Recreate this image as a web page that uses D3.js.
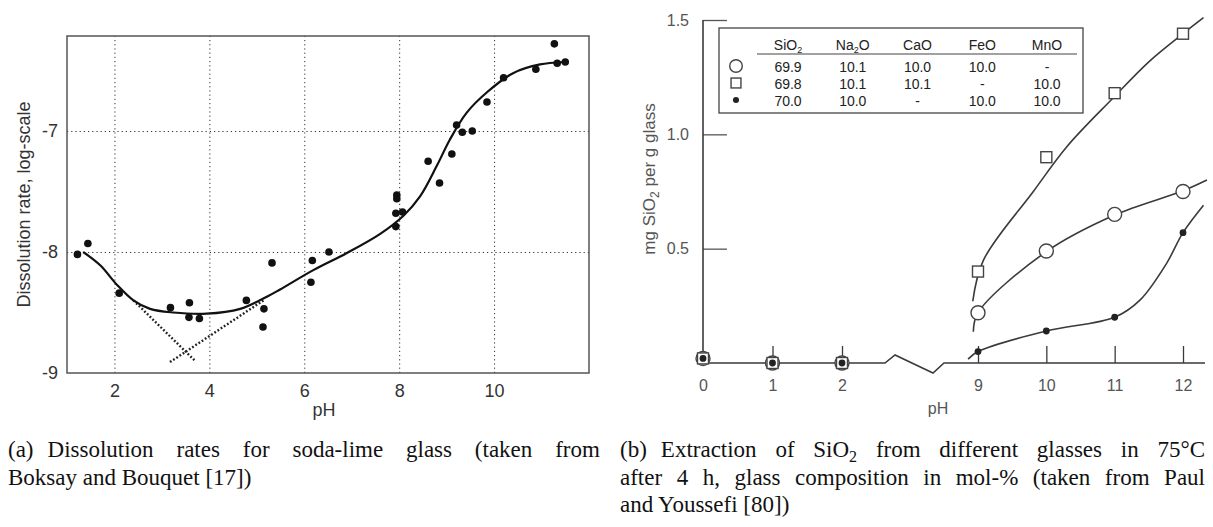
<!DOCTYPE html>
<html>
<head>
<meta charset="utf-8">
<script src="https://cdn.jsdelivr.net/npm/d3@7"></script>
<style>
  body { margin: 0; background: #fff; }
  svg text { font-family: "Liberation Sans", Arial, sans-serif; }
  .cap { font-family: "Liberation Serif", serif !important; font-size: 23px; fill: #111; }
</style>
</head>
<body>
<div id="svg"></div>
<script>
var width = 1213,
    height = 527;

// (a) dissolution rate vs pH
var phA   = [1.22, 1.44, 2.10, 3.18, 3.58, 3.57, 3.79, 4.78, 5.32, 5.15, 5.13, 6.17, 6.14, 6.52, 7.95, 7.95, 7.93, 8.07, 7.93, 8.61, 8.85, 9.11, 9.21, 9.33, 9.54, 9.85, 10.20, 10.88, 11.27, 11.33, 11.50];
var rateA = [-8.02, -7.93, -8.34, -8.46, -8.42, -8.54, -8.55, -8.40, -8.09, -8.47, -8.62, -8.07, -8.25, -8.00, -7.53, -7.56, -7.68, -7.67, -7.79, -7.25, -7.43, -7.19, -6.95, -7.01, -7.00, -6.76, -6.56, -6.49, -6.28, -6.44, -6.43];
// fitted curve
var fitPhA   = [1.34, 1.70, 2.05, 2.40, 2.75, 3.24, 3.94, 4.65, 5.21, 5.49, 6.19, 6.89, 7.60, 8.09, 8.44, 8.79, 9.07, 9.42, 9.85, 10.41, 10.97, 11.46];
var fitRateA = [-8.00, -8.11, -8.27, -8.40, -8.47, -8.50, -8.51, -8.47, -8.37, -8.31, -8.15, -8.01, -7.85, -7.70, -7.54, -7.29, -7.07, -6.85, -6.68, -6.52, -6.45, -6.43];
// dotted asymptotes
var acidPh = [2.40, 3.70], acidRate = [-8.40, -8.90];
var basePh = [3.17, 5.14], baseRate = [-8.91, -8.40];
var xTicksA = [2, 4, 6, 8, 10];
var yTicksA = [-9, -8, -7];

// (b) SiO2 extraction
var phB     = [0, 1, 2, 9, 10, 11, 12];
var circB   = [0.02, 0, 0, 0.22, 0.49, 0.65, 0.75];
var squareB = [0.02, 0, 0, 0.40, 0.90, 1.18, 1.44];
var dotB    = [0.02, 0, 0, 0.05, 0.14, 0.20, 0.57];
var circFitPh   = [8.76, 9, 10, 11, 12, 12.35];
var circFitVal  = [0.137, 0.22, 0.487, 0.647, 0.753, 0.80];
var squareFitPh  = [8.73, 9.08, 9.81, 10.30, 10.98, 11.5, 12, 12.3];
var squareFitVal = [0.27, 0.45, 0.75, 0.946, 1.16, 1.317, 1.44, 1.51];
var dotFitPh  = [8.49, 9, 10, 11, 11.37, 11.76, 12, 12.3];
var dotFitVal = [0.017, 0.05, 0.14, 0.20, 0.275, 0.436, 0.57, 0.69];
var xTicksB = [0, 1, 2, 9, 10, 11, 12];
var yTicksB = [0.5, 1.0, 1.5];

// legend table
var legendCols = ["SiO2", "Na2O", "CaO", "FeO", "MnO"];
var legendRows = [
  ["circle", ["69.9", "10.1", "10.0", "10.0", "-"]],
  ["square", ["69.8", "10.1", "10.1", "-", "10.0"]],
  ["dot",    ["70.0", "10.0", "-", "10.0", "10.0"]]
];

var svg = d3.select("#svg").append("svg")
    .attr("width", width)
    .attr("height", height);

// ---------------- panel (a) ----------------
var xA = d3.scaleLinear().domain([1, 12]).range([67, 589]);
var yA = d3.scaleLinear().domain([-9, -6.215]).range([373, 36]);
var gA = svg.append("g");

// grid
gA.append("g")
    .attr("transform", "translate(0," + yA(-9) + ")")
    .call(d3.axisBottom(xA).tickValues(xTicksA).tickSize(-(yA(-9) - yA.range()[1])).tickFormat(""))
    .call(function(g) { g.select(".domain").remove(); })
    .selectAll("line").attr("stroke", "#333").attr("stroke-dasharray", "1.2,3");
gA.append("g")
    .attr("transform", "translate(" + xA(1) + ",0)")
    .call(d3.axisLeft(yA).tickValues([-8, -7]).tickSize(-(xA(12) - xA(1))).tickFormat(""))
    .call(function(g) { g.select(".domain").remove(); })
    .selectAll("line").attr("stroke", "#333").attr("stroke-dasharray", "1.2,3");

// frame
gA.append("rect")
    .attr("x", xA(1)).attr("y", yA.range()[1])
    .attr("width", xA(12) - xA(1)).attr("height", yA(-9) - yA.range()[1])
    .attr("fill", "none").attr("stroke", "#555").attr("stroke-width", 1.5);

// tick labels
var axA = gA.append("g")
    .attr("transform", "translate(0," + yA(-9) + ")")
    .call(d3.axisBottom(xA).tickValues(xTicksA).tickSize(0).tickPadding(11));
var ayA = gA.append("g")
    .attr("transform", "translate(" + xA(1) + ",0)")
    .call(d3.axisLeft(yA).tickValues(yTicksA).tickSize(0).tickPadding(9).tickFormat(function(d) { return String(d); }));
[axA, ayA].forEach(function(a) {
  a.select(".domain").remove();
  a.selectAll("text").attr("font-size", 18).attr("fill", "#333")
    .style("font-family", "Liberation Sans, Arial, sans-serif");
});

var lineA = d3.line()
    .x(function(d) { return xA(d[0]); })
    .y(function(d) { return yA(d[1]); });

gA.append("path")
    .datum(d3.zip(acidPh, acidRate))
    .attr("d", lineA).attr("fill", "none")
    .attr("stroke", "#222").attr("stroke-width", 2.4).attr("stroke-dasharray", "1.8,2");
gA.append("path")
    .datum(d3.zip(basePh, baseRate))
    .attr("d", lineA).attr("fill", "none")
    .attr("stroke", "#222").attr("stroke-width", 2.4).attr("stroke-dasharray", "1.8,2");

gA.append("path")
    .datum(d3.zip(fitPhA, fitRateA))
    .attr("d", lineA.curve(d3.curveCatmullRom))
    .attr("fill", "none").attr("stroke", "#111").attr("stroke-width", 2.2);

gA.append("g").selectAll("circle")
    .data(d3.zip(phA, rateA))
    .enter().append("circle")
    .attr("cx", function(d) { return xA(d[0]); })
    .attr("cy", function(d) { return yA(d[1]); })
    .attr("r", 3.8)
    .attr("fill", "#111");

gA.append("text")
    .attr("x", 324).attr("y", 416)
    .attr("text-anchor", "middle").attr("font-size", 18).attr("fill", "#333")
    .text("pH");
gA.append("text")
    .attr("transform", "translate(30," + ((yA(-9) + yA.range()[1]) / 2) + ") rotate(-90)")
    .attr("text-anchor", "middle").attr("font-size", 18).attr("fill", "#333")
    .text("Dissolution rate, log-scale");

// ---------------- panel (b) ----------------
var xB = d3.scaleLinear().domain([0, 2, 9, 12]).range([703, 842, 978, 1183]);
var yB = d3.scaleLinear().domain([0, 1.5]).range([363, 20]);
var gB = svg.append("g");
var ink = "#3a3a3a";

// y axis
var ayB = gB.append("g")
    .attr("transform", "translate(" + xB(0) + ",0)")
    .call(d3.axisLeft(yB).tickValues(yTicksB).tickSizeInner(-24).tickSizeOuter(0).tickPadding(14).tickFormat(d3.format(".1f")));
ayB.select(".domain").remove();
ayB.selectAll("line").attr("stroke", "#555").attr("stroke-width", 1.3);
gB.append("line")
    .attr("x1", xB(0)).attr("x2", xB(0))
    .attr("y1", yB(0)).attr("y2", yB(1.5))
    .attr("stroke", ink).attr("stroke-width", 1.6);

// x axis with break
var axB = gB.append("g")
    .attr("transform", "translate(0," + yB(0) + ")")
    .call(d3.axisBottom(xB).tickValues(xTicksB).tickSizeInner(-17).tickSizeOuter(0).tickPadding(17));
axB.select(".domain").remove();
axB.selectAll("line").attr("stroke", ink).attr("stroke-width", 1.3);
axB.selectAll(".tick").filter(function(d) { return d === 0; }).select("line").remove();
[axB, ayB].forEach(function(a) {
  a.selectAll("text").attr("font-size", 16).attr("fill", "#555")
    .style("font-family", "Liberation Sans, Arial, sans-serif");
});

var y0 = yB(0), bx = xB(2);
gB.append("path")
    .attr("d", d3.line()([[xB(0), y0], [bx + 43, y0], [bx + 53, y0 - 8], [bx + 91, y0 + 10], [bx + 102, y0], [xB(12) + 22, y0]]))
    .attr("fill", "none").attr("stroke", ink).attr("stroke-width", 1.6);

var lineB = d3.line()
    .x(function(d) { return xB(d[0]); })
    .y(function(d) { return yB(d[1]); })
    .curve(d3.curveCatmullRom);

[[squareFitPh, squareFitVal], [circFitPh, circFitVal], [dotFitPh, dotFitVal]].forEach(function(f) {
  gB.append("path")
    .datum(d3.zip(f[0], f[1]))
    .attr("d", lineB)
    .attr("fill", "none").attr("stroke", ink).attr("stroke-width", 1.6);
});

function drawSymbol(g, kind, cx, cy, scale) {
  if (kind === "circle") {
    g.append("circle").attr("cx", cx).attr("cy", cy).attr("r", 7 * scale)
      .attr("fill", "#fff").attr("stroke", "#444").attr("stroke-width", 1.4);
  } else if (kind === "square") {
    var s = 11 * scale;
    g.append("rect").attr("x", cx - s / 2).attr("y", cy - s / 2).attr("width", s).attr("height", s)
      .attr("fill", "#fff").attr("stroke", "#444").attr("stroke-width", 1.4);
  } else {
    g.append("circle").attr("cx", cx).attr("cy", cy).attr("r", 3.4 * scale).attr("fill", "#222");
  }
}

var symG = gB.append("g");
[["circle", circB], ["square", squareB], ["dot", dotB]].forEach(function(s) {
  phB.forEach(function(p, i) {
    drawSymbol(symG, s[0], xB(p), yB(s[1][i]), 1);
  });
});

// legend table
var lg = gB.append("g");
lg.append("rect")
    .attr("x", 719).attr("y", 28).attr("width", 364).attr("height", 85)
    .attr("fill", "#fff").attr("stroke", "#444").attr("stroke-width", 1.3);
var colX = d3.scalePoint().domain(legendCols).range([788, 1047]);
legendCols.forEach(function(c) {
  var t = lg.append("text")
    .attr("x", colX(c)).attr("y", 50)
    .attr("text-anchor", "middle").attr("font-size", 14).attr("fill", "#222");
  c.split(/(\d)/).filter(function(s) { return s.length; }).forEach(function(part) {
    if (/\d/.test(part)) {
      t.append("tspan").attr("font-size", 9).attr("dy", 3).text(part);
    } else {
      var ts = t.append("tspan").text(part);
      if (t.selectAll("tspan").size() > 1) ts.attr("dy", -3);
    }
  });
});
lg.append("line")
    .attr("x1", 757).attr("x2", 1077).attr("y1", 54).attr("y2", 54)
    .attr("stroke", "#444").attr("stroke-width", 1.2);
var rowY = d3.scalePoint().domain(d3.range(legendRows.length)).range([72, 106]);
legendRows.forEach(function(r, i) {
  drawSymbol(lg, r[0], 736, rowY(i) - 6, 0.9);
  r[1].forEach(function(v, j) {
    lg.append("text")
      .attr("x", colX(legendCols[j])).attr("y", rowY(i))
      .attr("text-anchor", "middle").attr("font-size", 14).attr("fill", "#222")
      .text(v);
  });
});

gB.append("text")
    .attr("x", 938).attr("y", 414)
    .attr("text-anchor", "middle").attr("font-size", 16).attr("fill", "#555")
    .text("pH");
var yl = gB.append("text")
    .attr("transform", "translate(655,179) rotate(-90)")
    .attr("text-anchor", "middle").attr("font-size", 17).attr("fill", "#555");
yl.append("tspan").text("mg SiO");
yl.append("tspan").attr("font-size", 12).attr("dy", 4).text("2");
yl.append("tspan").attr("dy", -4).text(" per g glass");

// ---------------- captions ----------------
function capLine(x, y, parts) {
  var t = svg.append("text").attr("class", "cap").attr("x", x).attr("y", y);
  parts.forEach(function(p) {
    var ts = t.append("tspan").text(p.t);
    if (p.dx) ts.attr("dx", p.dx);
    if (p.sub) ts.attr("font-size", 16).attr("dy", 5);
    if (p.up) ts.attr("dy", -5);
  });
  return t;
}
function justify(t, left, right) {
  var n = (t.text().match(/ /g) || []).length;
  var w = t.node().getBBox().width;
  t.attr("word-spacing", (right - left - w) / n);
}

var a1 = capLine(8, 457, [{t: "(a)"}, {t: "Dissolution rates for soda-lime glass (taken from", dx: 14}]);
justify(a1, 8, 600);
capLine(8, 485, [{t: "Boksay and Bouquet [17])"}]);

var b1 = capLine(620, 457, [{t: "(b)"}, {t: "Extraction of SiO", dx: 14}, {t: "2", sub: true}, {t: " from different glasses in 75°C", up: true}]);
justify(b1, 620, 1205);
var b2 = capLine(620, 485, [{t: "after 4 h, glass composition in mol-% (taken from Paul"}]);
justify(b2, 620, 1205);
capLine(620, 512, [{t: "and Youssefi [80])"}]);
</script>
</body>
</html>
